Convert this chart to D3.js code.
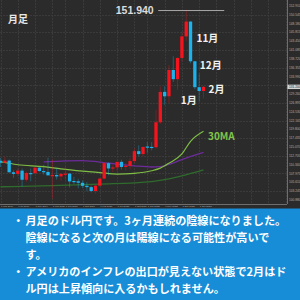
<!DOCTYPE html>
<html><head><meta charset="utf-8">
<script src="https://cdn.jsdelivr.net/npm/d3@7"></script>
<style>html,body{margin:0;padding:0;background:#2b2b2b;overflow:hidden}svg{display:block}</style>
</head><body><svg id="c" width="300" height="300"></svg>
<script>
// ---- data (USD/JPY monthly) ----
const months = ["Mar 2019","Apr 2019","May 2019","Jun 2019","Jul 2019","Aug 2019","Sep 2019","Oct 2019","Nov 2019","Dec 2019",
"Jan 2020","Feb 2020","Mar 2020","Apr 2020","May 2020","Jun 2020","Jul 2020","Aug 2020","Sep 2020","Oct 2020","Nov 2020","Dec 2020",
"Jan 2021","Feb 2021","Mar 2021","Apr 2021","May 2021","Jun 2021","Jul 2021","Aug 2021","Sep 2021","Oct 2021","Nov 2021","Dec 2021",
"Jan 2022","Feb 2022","Mar 2022","Apr 2022","May 2022","Jun 2022","Jul 2022","Aug 2022","Sep 2022","Oct 2022","Nov 2022","Dec 2022",
"Jan 2023","Feb 2023"];
const open  = [111.38,110.85,111.42,108.28,107.85,108.73,106.28,108.08,108.03,109.51,
108.61,108.38,107.40,107.55,107.18,107.83,107.93,105.95,105.87,105.47,104.65,104.30,
103.25,104.68,106.59,110.72,109.31,109.59,111.08,109.71,110.02,111.29,113.95,113.17,
115.20,115.10,115.00,121.69,129.84,128.67,135.72,133.26,138.96,144.74,148.71,138.06,
131.11,130.09];
const high  = [112.14,112.40,111.69,108.80,109.32,109.32,108.48,109.29,109.73,109.72,
110.29,112.23,111.71,109.38,108.08,109.85,107.99,107.05,106.55,106.11,105.68,104.74,
104.94,106.69,110.97,110.96,110.20,111.11,111.66,110.80,112.08,114.70,115.52,115.19,
116.35,116.34,125.10,131.26,131.35,137.00,139.39,139.08,145.90,151.94,148.82,138.18,
134.78,131.50];
const low   = [109.70,110.84,108.25,106.78,107.21,104.46,105.74,105.88,107.89,108.42,
107.65,107.51,101.18,106.36,105.99,106.07,104.19,105.10,104.00,104.02,103.18,102.88,
102.59,104.41,106.36,107.48,108.34,108.57,109.06,108.72,109.11,110.82,112.53,112.56,
113.47,114.15,114.66,121.28,126.36,126.87,132.51,130.40,138.00,143.53,137.50,130.56,
127.22,128.08];
const close = [110.85,111.42,108.28,107.85,108.73,106.28,108.08,108.03,109.51,108.61,
108.38,107.45,107.55,107.18,107.83,107.93,105.83,105.87,105.47,104.65,104.30,103.25,
104.68,106.59,110.72,109.31,109.59,111.08,109.71,110.02,111.29,113.95,113.17,115.08,
115.10,115.00,121.69,129.84,128.67,135.72,133.26,138.96,144.74,148.71,138.06,131.11,
130.09,131.20];
// moving averages: [month index, value]
const maLight  = [[0,111.1],[4,110.3],[10,109.8],[14,109.2],[19,108.6],[23,108.2],[27,107.8],[31,108.0],[35,108.7],[37,109.4],[39,110.7],[42,113.2],[44,116.6],[47,119.3]];
const maPurple = [[10,111.1],[19,111.4],[25,110.7],[31,110.0],[35,109.7],[37,109.8],[39,110.4],[42,111.7],[47,113.6]];
const maDark   = [[0,104.4],[12,104.7],[23,105.1],[35,105.8],[39,106.5],[42,107.3],[47,108.9]];
// axis tick labels
const priceTicks = [152.910,150.545,148.180,145.815,143.450,141.085,138.720,136.355,133.990,131.625,129.260,126.895,124.530,122.165,119.800,117.435,115.070,112.705,110.340,107.975,105.610,103.245,100.880];
const timeTickIdx = [0,4,8,12,15,19,23,27,31,34,38,42,46];
const gridExtraIdx = [50,54,58,62,66];
const monthNotes = ["11月","12月","1月","2月"];
const noteLines = [
  {bullet:true,  text:"月足のドル円です。3ヶ月連続の陰線になりました。"},
  {bullet:false, text:"陰線になると次の月は陽線になる可能性が高いで"},
  {bullet:false, text:"す。"},
  {bullet:true,  text:"アメリカのインフレの出口が見えない状態で2月はド"},
  {bullet:false, text:"ル円は上昇傾向に入るかもしれません。"}
];

// ---- drawing ----
const svg = d3.select('#c');
const plotR = 287, plotB = 204, chartB = 208.5;
const x = d3.scaleLinear().domain([0,47]).range([0.5,203.5]);
const y = d3.scaleLinear().domain([98.7,154.5]).range([208,0]);
const UP = '#f5141e', DOWN = '#1cb2ec';
const jp = "'Noto Sans CJK JP','Noto Sans',sans-serif";

svg.append('rect').attr('x',0).attr('y',0).attr('width',300).attr('height',chartB).attr('fill','#2b2b2b');

svg.append('clipPath').attr('id','pc').append('rect').attr('x',0).attr('y',0).attr('width',plotR).attr('height',plotB);
const g = svg.append('g').attr('clip-path','url(#pc)');

// grid
const gridCol = '#3a3a3a';
g.selectAll('.hg').data(priceTicks.filter((d,i)=>i%2===1)).join('line')
  .attr('x1',0).attr('x2',plotR).attr('y1',d=>Math.round(y(d))+0.5).attr('y2',d=>Math.round(y(d))+0.5)
  .attr('stroke',gridCol).attr('stroke-width',1).attr('stroke-dasharray','2,1');
g.selectAll('.vg').data(timeTickIdx.concat(gridExtraIdx)).join('line')
  .attr('y1',0).attr('y2',plotB).attr('x1',d=>Math.round(x(d))+0.5).attr('x2',d=>Math.round(x(d))+0.5)
  .attr('stroke',gridCol).attr('stroke-width',1).attr('stroke-dasharray','2,1');

// moving averages
const line = d3.line().x(d=>x(d[0])).y(d=>y(d[1])).curve(d3.curveMonotoneX);
g.append('path').attr('d',line(maDark)).attr('fill','none').attr('stroke','#2f6b2c').attr('stroke-width',1.3);
g.append('path').attr('d',line(maPurple)).attr('fill','none').attr('stroke','#6c2c9a').attr('stroke-width',1.3);
g.append('path').attr('d',line(maLight)).attr('fill','none').attr('stroke','#7fbe45').attr('stroke-width',1.2);

// candles
const idx = d3.range(months.length);
g.selectAll('.wick').data(idx).join('line')
  .attr('x1',i=>x(i)).attr('x2',i=>x(i)).attr('y1',i=>y(high[i])).attr('y2',i=>y(low[i]))
  .attr('stroke',i=>close[i]>=open[i]?UP:DOWN).attr('stroke-width',0.8).attr('stroke-opacity',0.45);
const bw = 3.3;
g.selectAll('.body').data(idx).join('rect')
  .attr('x',i=>x(i)-bw/2).attr('width',bw)
  .attr('y',i=>y(Math.max(open[i],close[i])))
  .attr('height',i=>Math.max(1.2, Math.abs(y(open[i])-y(close[i]))))
  .attr('fill',i=>close[i]>=open[i]?UP:DOWN);

// axes
const last = close.length-1;
const curY = y(close[last]);
svg.append('line').attr('x1',plotR+0.5).attr('x2',plotR+0.5).attr('y1',0).attr('y2',plotB).attr('stroke','#6e6e6e');
svg.append('line').attr('x1',0).attr('x2',plotR).attr('y1',plotB+0.5).attr('y2',plotB+0.5).attr('stroke','#6e6e6e');
svg.selectAll('.pt').data(priceTicks.filter(d=>Math.abs(y(d)-curY)>4.6)).join('text')
  .attr('x',289).attr('y',d=>y(d)+1.1).attr('font-size',3.2).attr('fill','#b0b0b0')
  .attr('font-family','Liberation Sans, sans-serif').text(d=>d.toFixed(3));
svg.selectAll('.tt').data(timeTickIdx).join('text')
  .attr('x',i=>x(i)+0.5).attr('y',207.4).attr('font-size',2.4).attr('fill','#b0b0b0')
  .attr('font-family','Liberation Sans, sans-serif').text(i=>'1 '+months[i]);
// current price marker
svg.append('rect').attr('x',plotR+0.5).attr('y',curY-2.2).attr('width',13).attr('height',4.4).attr('fill','#d4d4d4');
svg.append('text').attr('x',289).attr('y',curY+1.1).attr('font-size',3.2).attr('fill','#222')
  .attr('font-family','Liberation Sans, sans-serif').text(close[last].toFixed(3));

// high marker
const hi = d3.maxIndex(high);
svg.append('line').attr('x1',x(hi)-28).attr('x2',x(hi)+38).attr('y1',y(high[hi])+1).attr('y2',y(high[hi])+1)
  .attr('stroke','#a8a8a8').attr('stroke-width',1);
svg.append('text').attr('x',x(hi)-32.5).attr('y',y(high[hi])+4.3).attr('text-anchor','end')
  .attr('font-family','Liberation Sans, sans-serif').attr('font-weight','bold').attr('font-size',10.5)
  .attr('fill','#dcdcdc').text(high[hi].toFixed(3));

// title
svg.append('text').attr('x',8).attr('y',22.5).attr('font-family',jp).attr('font-weight','bold')
  .attr('font-size',10).attr('fill','#e8e8e8').text('月足');

// month notes
const noteStyle = t=>t.attr('font-family',jp).attr('font-weight','bold').attr('font-size',10).attr('fill','#f2f2f2');
svg.append('text').attr('x',x(44)+6).attr('y',y(open[44])+20.5).call(noteStyle).text(monthNotes[0]);
svg.append('text').attr('x',x(45)+5).attr('y',y(open[45])+7.5).call(noteStyle).text(monthNotes[1]);
svg.append('text').attr('x',x(46)-2.5).attr('y',y(close[46])+13).attr('text-anchor','end').call(noteStyle).text(monthNotes[2]);
svg.append('text').attr('x',x(47)+5).attr('y',y(close[47])+6.5).call(noteStyle).text(monthNotes[3]);

// MA label
const lastMA = maLight[maLight.length-1];
svg.append('text').attr('x',x(lastMA[0])+4.5).attr('y',y(lastMA[1])+8.3).attr('font-family',jp).attr('font-weight','bold')
  .attr('font-size',10).attr('fill','#80c34a').text('30MA');

// note panel
svg.append('rect').attr('x',0).attr('y',chartB).attr('width',300).attr('height',300-chartB).attr('fill','#178dd7');
const lineH = 17.1;
noteLines.forEach((l,k)=>{
  const by = 224.5 + k*lineH;
  if(l.bullet) svg.append('text').attr('x',12.8).attr('y',by).attr('font-family',jp).attr('font-weight','bold')
     .attr('font-size',11).attr('fill','#fff').text('・');
  svg.append('text').attr('x',25.5).attr('y',by).attr('font-family',jp).attr('font-weight','bold')
     .attr('font-size',11.1).attr('fill','#fff').text(l.text);
});
</script></body></html>
